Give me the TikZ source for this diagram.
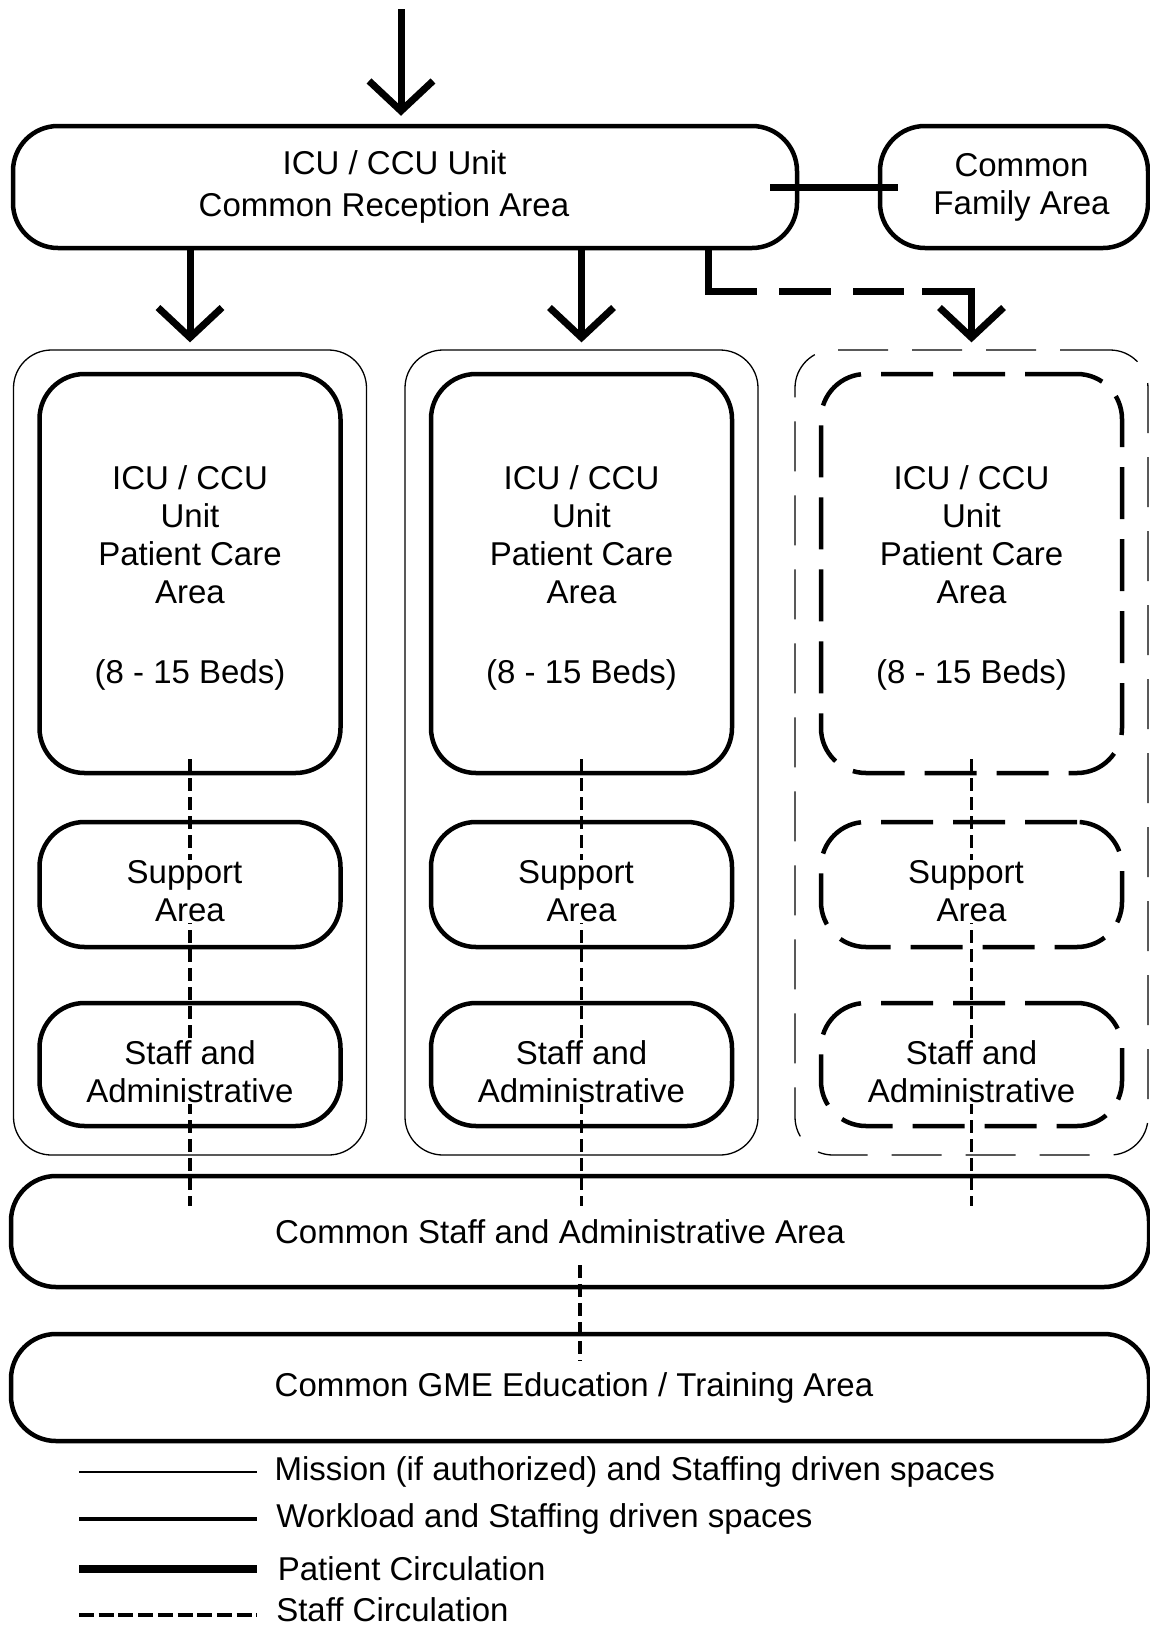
\documentclass[tikz,border=0pt]{standalone}
\usepackage{fontspec}
\setmainfont{Liberation Sans}
\usetikzlibrary{arrows.meta,calc,positioning}

\begin{document}
\begin{tikzpicture}[x=1pt, y=-1pt, font=\fontsize{33}{38}\selectfont,
   wbox/.style={draw, rounded corners=45pt, line width=4.5pt, minimum width=301pt},
   mbox/.style={draw, rounded corners=38pt, line width=1.3pt, minimum width=353pt, minimum height=805pt},
   lbl/.style={fill=white, align=center, inner sep=1pt, yshift=-7pt},
   patient/.style={line width=7pt, -{Straight Barb[length=30pt,width=64pt]}},
   staff/.style={line width=3.3pt, dash pattern=on 13pt off 6pt},
   lgd/.style={anchor=west, inner sep=2pt, xshift=15pt}]
   \useasboundingbox (0,0) rectangle (1150,1628);

   % top row
   \node[wbox, minimum width=784pt, minimum height=122pt, align=center, font=\fontsize{33}{42}\selectfont] (rec) at (405,187)
      {ICU / CCU Unit\hspace*{21pt}\\Common Reception Area\hspace*{42pt}};
   \node[wbox, minimum width=268pt, minimum height=122pt, align=center] (fam) at (1014,187)
      {\hspace*{15pt}Common\\\hspace*{15pt}Family Area};

   % the three units
   \node[mbox] (col1) at (190,752.5) {};
   \node[mbox] (col2) at (581.5,752.5) {};
   \node[mbox, dash pattern=on 50pt off 24pt] (col3) at (971.5,752.5) {};
   \begin{scope}[every node/.style={wbox}]
    \node[minimum height=399pt] (care1) at (190,573.5) {};
    \node[minimum height=399pt] (care2) at (581.5,573.5) {};
    \node[minimum height=399pt, dash pattern=on 52pt off 20pt] (care3) at (971.5,573.5) {};
    \node[minimum height=125pt] (sup1) at (190,884.5) {};
    \node[minimum height=125pt] (sup2) at (581.5,884.5) {};
    \node[minimum height=125pt, dash pattern=on 52pt off 20pt] (sup3) at (971.5,884.5) {};
    \node[minimum height=123pt] (adm1) at (190,1064.5) {};
    \node[minimum height=123pt] (adm2) at (581.5,1064.5) {};
    \node[minimum height=123pt, dash pattern=on 52pt off 20pt] (adm3) at (971.5,1064.5) {};
   \end{scope}

   % common areas
   \node[wbox, minimum width=1138pt, minimum height=111pt] (cstaff) at (580,1231.5) {Common Staff and Administrative Area\hspace*{40pt}};
   \node[wbox, minimum width=1138pt, minimum height=107pt] (gme) at (580,1387.5) {Common GME Education / Training Area\hspace*{12pt}};

   % patient circulation
   \coordinate (in) at (401,9);
   \coordinate (turn) at (708,291);
   \draw[patient, shorten >=8pt] (in) -- (in |- rec.north);
   \draw[patient, shorten >=7pt] (rec.south -| col1.north) -- (col1.north);
   \draw[patient, shorten >=7pt] (rec.south -| col2.north) -- (col2.north);
   \draw[patient, shorten >=7pt, dash pattern=on 90pt off 22pt on 52pt off 22pt on 51pt off 18pt on 300pt]
      (rec.south -| turn) -- (turn) -| (col3.north);
   \draw[line width=7pt] ([xshift=-29pt]rec.east) -- ([xshift=20pt]fam.west);

   % staff circulation
   \draw[staff] ([yshift=16pt]care1.south) -- ($(cstaff.north -| care1.south)+(0,32)$);
   \draw[staff] ([yshift=16pt]care2.south) -- ($(cstaff.north -| care2.south)+(0,32)$);
   \draw[staff] ([yshift=16pt]care3.south) -- ($(cstaff.north -| care3.south)+(0,32)$);
   \draw[staff] ([yshift=24pt]cstaff.south) -- ([yshift=-29pt]gme.north);

   % texts of the units
   \begin{scope}[every node/.style={lbl}]
    \node[yshift=3pt] (care1t) at (care1) {ICU / CCU\\Unit\hspace*{10pt}\\Patient Care\\Area\hspace*{10pt}\\[42pt](8 - 15 Beds)};
    \node[yshift=3pt] (care2t) at (care2) {ICU / CCU\\Unit\hspace*{10pt}\\Patient Care\\Area\hspace*{10pt}\\[42pt](8 - 15 Beds)};
    \node[yshift=3pt] (care3t) at (care3) {ICU / CCU\\Unit\hspace*{10pt}\\Patient Care\\Area\hspace*{10pt}\\[42pt](8 - 15 Beds)};
    \node (sup1t) at (sup1) {Support\hspace*{11pt}\\Area};
    \node (sup2t) at (sup2) {Support\hspace*{11pt}\\Area};
    \node (sup3t) at (sup3) {Support\hspace*{11pt}\\Area};
    \node (adm1t) at (adm1) {Staff and\\Administrative};
    \node (adm2t) at (adm2) {Staff and\\Administrative};
    \node (adm3t) at (adm3) {Staff and\\Administrative};
   \end{scope}

   % legend
   \draw[line width=1.3pt] (79,1472) -- (257,1472) node[lgd] (lg1) {Mission (if authorized) and Staffing driven spaces};
   \draw[line width=4.5pt] (79,1519) -- (257,1519) node[lgd] (lg2) {Workload and Staffing driven spaces};
   \draw[line width=7.5pt] (79,1569) -- (257,1569) node[lgd] (lg3) {Patient Circulation};
   \draw[staff, line width=4.5pt, dash pattern=on 15pt off 4.7pt] (79,1615) -- (257,1615) node[lgd, yshift=5pt] (lg4) {Staff Circulation};
\end{tikzpicture}
\end{document}
